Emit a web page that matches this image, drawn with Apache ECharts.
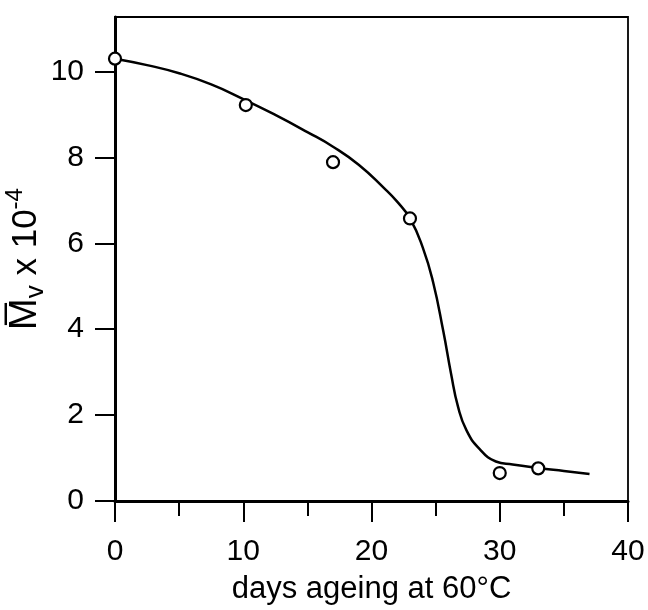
<!DOCTYPE html>
<html>
<head>
<meta charset="utf-8">
<script src="https://cdn.jsdelivr.net/npm/echarts@6/dist/echarts.min.js"></script>
<style>
html,body{margin:0;padding:0;background:#fff;}
#c{width:648px;height:610px;}
</style>
</head>
<body>
<div id="c"></div>
<script>
// measured data points (days, Mv x 10^-4)
const pointDays = [0, 10.2, 17, 23, 30, 33];
const pointMv = [10.3, 9.22, 7.89, 6.58, 0.65, 0.76];
// fitted curve drawn through the figure
const curveDays = [0, 2.5, 5, 7.5, 10, 12.5, 15, 17, 19, 21, 22, 23, 24, 24.8, 25.6, 26.2, 26.75, 27.4, 28.4, 29.7, 31, 33, 35, 37];
const curveMv = [10.3, 10.15, 9.96, 9.7, 9.36, 8.99, 8.59, 8.25, 7.83, 7.28, 6.97, 6.58, 5.9, 5.1, 3.95, 2.97, 2.19, 1.65, 1.22, 0.92, 0.85, 0.77, 0.7, 0.63];
// tick values
const xMajorTicks = [0, 10, 20, 30, 40];
const xMinorTicks = [5, 15, 25, 35];
const yTicks = [0, 2, 4, 6, 8, 10];
const xTitle = 'days ageing at 60°C';

const FONT = 'Liberation Sans, Arial, Helvetica, sans-serif';
const chart = echarts.init(document.getElementById('c'), null, {renderer: 'canvas'});

const zip = (a, b) => a.map((v, i) => [v, b[i]]);

chart.setOption({
  animation: false,
  backgroundColor: '#fff',
  grid: {left: 115, right: 20, top: 17, bottom: 109, show: true, borderColor: '#000', borderWidth: 1.8, backgroundColor: 'transparent', containLabel: false, outerBoundsMode: 'none'},
  xAxis: [{
    type: 'value', min: 0, max: 40, interval: 10,
    axisLine: {show: true, onZero: false, lineStyle: {color: '#000', width: 3}},
    axisTick: {show: true, inside: false, length: 21, lineStyle: {color: '#000', width: 2}, customValues: xMajorTicks},
    minorTick: {show: false},
    axisLabel: {color: '#000', fontSize: 30, fontFamily: FONT, margin: 36, customValues: xMajorTicks},
    splitLine: {show: false},
    name: xTitle, nameLocation: 'middle', nameGap: 73, nameMoveOverlap: false,
    nameTextStyle: {color: '#000', fontSize: 31, fontFamily: FONT}
  }, {
    type: 'value', min: 0, max: 40, position: 'bottom', offset: 0,
    axisLine: {show: false},
    axisTick: {show: true, length: 15, lineStyle: {color: '#000', width: 2}, customValues: xMinorTicks},
    axisLabel: {show: false},
    splitLine: {show: false}
  }],
  yAxis: {
    type: 'value', min: 0, max: 11.27, interval: 2,
    axisLine: {show: true, onZero: false, lineStyle: {color: '#000', width: 3}},
    axisTick: {show: true, inside: false, length: 20, lineStyle: {color: '#000', width: 2}, customValues: yTicks},
    axisLabel: {color: '#000', fontSize: 30, fontFamily: FONT, margin: 31, customValues: yTicks},
    splitLine: {show: false},
    name: '{m|M\u0305}{v|v}{t| x 10}{s|-4}',
    nameLocation: 'middle', nameGap: 66, nameMoveOverlap: false,
    nameTextStyle: {
      color: '#000', fontFamily: FONT, fontSize: 35,
      rich: {
        m: {fontSize: 38, fontFamily: FONT, color: '#000', verticalAlign: 'middle', lineHeight: 46},
        v: {fontSize: 26, fontFamily: FONT, color: '#000', verticalAlign: 'bottom', lineHeight: 46},
        t: {fontSize: 35, fontFamily: FONT, color: '#000', verticalAlign: 'middle', lineHeight: 46},
        s: {fontSize: 24, fontFamily: FONT, color: '#000', verticalAlign: 'top', lineHeight: 46}
      }
    }
  },
  series: [{
    type: 'line', data: zip(curveDays, curveMv), smooth: 0.5,
    showSymbol: false, symbol: 'none',
    lineStyle: {color: '#000', width: 2.5}, z: 2
  }, {
    type: 'scatter', data: zip(pointDays, pointMv),
    symbol: 'circle', symbolSize: 12,
    itemStyle: {color: '#fff', borderColor: '#000', borderWidth: 2.2, opacity: 1}, z: 3
  }]
});
</script>
</body>
</html>
